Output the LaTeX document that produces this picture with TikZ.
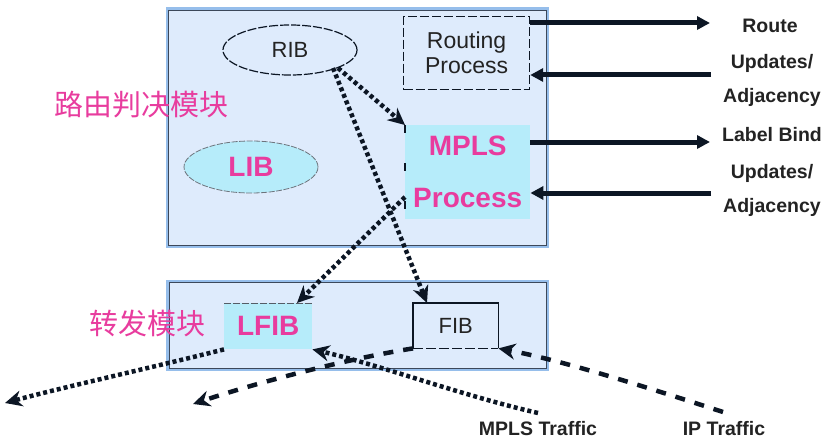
\documentclass[tikz,border=0pt]{standalone}
\usepackage{fontspec}
\setmainfont{Liberation Sans}
\newfontfamily\cjk{Noto Sans CJK SC}
\usetikzlibrary{arrows.meta,shapes.geometric}
\definecolor{boxfill}{RGB}{222,235,252}
\definecolor{cyanfill}{RGB}{182,236,250}
\definecolor{boxedge}{RGB}{60,72,90}
\definecolor{halo}{RGB}{150,190,235}
\definecolor{ink}{RGB}{12,22,36}
\definecolor{pink}{RGB}{232,60,158}
\definecolor{txtgray}{RGB}{35,35,35}
\tikzset{
  module/.style={draw=boxedge, line width=1.3pt, fill=boxfill},
  dotarrow/.style={ink, line width=4.5pt, dash pattern=on 4pt off 3pt, -{Stealth[length=17pt,width=16pt]}},
  dasharrow/.style={ink, line width=4.5pt, dash pattern=on 10pt off 10pt, -{Stealth[length=17pt,width=16pt]}},
  solidarrow/.style={ink, line width=5pt, -{Triangle[length=13pt,width=13pt]}},
  sidetext/.style={font=\bfseries\fontsize{19.5}{19.5}\selectfont, text=txtgray, inner sep=0pt},
  pinkbold/.style={font=\bfseries\fontsize{28}{28}\selectfont, text=pink},
  cn/.style={font=\cjk\fontsize{29}{29}\selectfont, text=pink, inner sep=0pt}
}
\begin{document}
\begin{tikzpicture}[x=1pt,y=-1pt]
\useasboundingbox (0,0) rectangle (839,444);
% modules
\draw[halo, line width=3pt] (167,9) rectangle (547,246);
\node[module, minimum width=378pt, minimum height=235pt, anchor=north west, inner sep=0pt] (top) at (168,10) {};
\draw[halo, line width=3pt] (167,281) rectangle (547,369);
\node[module, minimum width=377pt, minimum height=86pt, anchor=north west, inner sep=0pt] (bot) at (169,282) {};
% Chinese labels
\node[cn, anchor=west] (route) at (54,105) {路由判决模块};
\node[cn, anchor=west] (fwd) at (89,323) {转发模块};
% RIB
\node[ellipse, draw=ink, line width=1.2pt, dash pattern=on 9pt off 2pt, minimum width=134pt, minimum height=50pt, inner sep=0pt,
  font=\fontsize{22}{22}\selectfont, text=txtgray] (rib) at (290,50) {RIB};
% LIB
\node[ellipse, draw=ink!60, line width=0.8pt, dash pattern=on 6pt off 1.5pt, fill=cyanfill, minimum width=134pt, minimum height=52pt, inner sep=0pt, pinkbold] (lib) at (251,167) {LIB};
% Routing Process
\node[draw=ink, line width=1.2pt, dash pattern=on 9pt off 3pt, minimum width=126pt, minimum height=73pt, inner sep=0pt, anchor=north west,
  align=center, font=\fontsize{23}{25}\selectfont, text=txtgray] (rp) at (403,16) {Routing\\Process};
% MPLS Process
\node[fill=cyanfill, minimum width=125pt, minimum height=94pt, inner sep=0pt, anchor=north west, align=center,
  pinkbold, font=\bfseries\fontsize{28}{52}\selectfont] (mp) at (405,125) {MPLS\\Process};
\draw[ink, line width=1.2pt, dash pattern=on 8pt off 30pt] (405,125) -- (405,219);
% LFIB
\node[fill=cyanfill, minimum width=88pt, minimum height=46pt, inner sep=0pt, anchor=north west, pinkbold] (lfib) at (224,303) {LFIB};
\draw[ink!70, line width=1pt, dash pattern=on 7pt off 2pt] (lfib.north west) -- (lfib.north east);
% FIB
\node[minimum width=85pt, minimum height=45pt, inner sep=0pt, anchor=north west, font=\fontsize{22}{22}\selectfont, text=txtgray] (fib) at (413,303) {FIB};
\draw[ink, line width=1.2pt] (fib.south west) -- (fib.north west) -- (fib.north east) -- (fib.south east);
\draw[ink, line width=1.2pt, dash pattern=on 10pt off 3pt] (fib.south west) -- (fib.south east);
% right side texts
\node[sidetext] (t1) at (770,26) {Route};
\node[sidetext] (t2) at (772,63) {Updates/};
\node[sidetext] (t3) at (772,97) {Adjacency};
\node[sidetext] (t4) at (772,135) {Label Bind};
\node[sidetext] (t5) at (772,173) {Updates/};
\node[sidetext] (t6) at (772,207) {Adjacency};
\node[sidetext] (mt) at (538,429) {MPLS Traffic};
\node[sidetext] (it) at (724,429) {IP Traffic};
% coordinates for free ends
\coordinate (o1) at (710,23);
\coordinate (i1) at (711,75);
\coordinate (o2) at (710,142);
\coordinate (i2) at (711,193);
\coordinate (lout) at (5,403);
\coordinate (fout) at (193,404);
\coordinate (min) at (538,413);
\coordinate (ipin) at (723,412);
% right solid arrows
\draw[solidarrow] (rp.east |- o1) -- (o1);
\draw[solidarrow] (i1) -- (rp.east |- i1);
\draw[solidarrow] (mp.east |- o2) -- (o2);
\draw[solidarrow] (i2) -- (mp.east |- i2);
% dotted internal arrows
\draw[dotarrow] (338,68) -- (mp.north west);
\draw[dotarrow] (333,68) -- (fib.north west -| 427,0);
\draw[dotarrow] (405,197) -- (297,303);
% outgoing
\draw[dotarrow] (lfib.south west) .. controls (150,368) and (60,388) .. (lout);
\draw[dasharrow] (fib.south west) .. controls (340,360) and (250,385) .. (fout);
% incoming
\draw[dotarrow] (min) .. controls (460,395) and (380,365) .. (lfib.south east);
\draw[dasharrow] (ipin) .. controls (640,385) and (560,360) .. (fib.south east);
\end{tikzpicture}
\end{document}
